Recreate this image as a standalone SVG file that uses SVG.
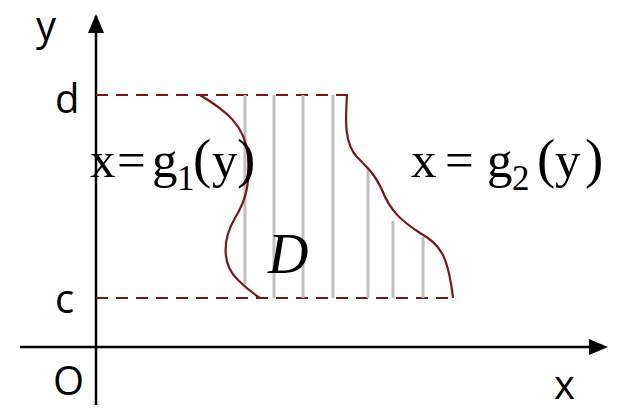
<svg xmlns="http://www.w3.org/2000/svg" width="618" height="409" viewBox="0 0 618 409">
<defs>
<style>
.axis{stroke:#000;stroke-width:2.5;fill:none}
.dash{stroke:#7f1416;stroke-width:2.2;stroke-dasharray:12 8;fill:none}
.curve{stroke:#7f1416;stroke-width:2.2;fill:none}
.grid{stroke:#bfbfbf;stroke-width:3}
.lab{font-family:"Open Sans","Liberation Sans",sans-serif;font-size:40px;fill:#000}
.math{font-family:"Liberation Serif","Times New Roman",serif;font-size:51px;fill:#000}
.sub{font-size:35px}
.par{font-size:55px}
</style>
</defs>
<g id="connectors">
<line class="axis" x1="96" y1="405" x2="96" y2="16"/>
<path d="M96,14 L88,33 L104,33 z" fill="#000"/>
<line class="axis" x1="20" y1="347" x2="590" y2="347"/>
<path d="M608,347 L589,339 L589,355 z" fill="#000"/>
<line class="dash" x1="96" y1="95" x2="348" y2="95"/>
<line class="dash" x1="96" y1="298" x2="455" y2="298"/>
</g>
<g id="grid">
<line class="grid" x1="245" y1="95" x2="245" y2="284"/>
<line class="grid" x1="274" y1="95" x2="274" y2="298"/>
<line class="grid" x1="303" y1="95" x2="303" y2="298"/>
<line class="grid" x1="333" y1="95" x2="333" y2="298"/>
<line class="grid" x1="368" y1="168" x2="368" y2="298"/>
<line class="grid" x1="393" y1="221" x2="393" y2="298"/>
<line class="grid" x1="423" y1="237" x2="423" y2="298"/>
</g>
<g id="g1-curve">
<path class="curve" d="M200,95 C225,110 245,125 248,155 C250,185 246,200 235,218 C222,240 222,265 238,280 C246,288 254,294 260,298"/>
</g>
<g id="g2-curve">
<path class="curve" d="M347,95 C346,115 343,142 357,157 C370,170 375,175 382,190 C390,210 400,220 420,233 C440,244 448,255 453,298"/>
</g>
<g id="labels">
<text class="lab" x="36" y="40">y</text>
<text class="lab" x="55" y="113">d</text>
<text class="lab" x="55" y="313">c</text>
<text class="lab" x="53" y="395">O</text>
<text class="lab" x="554" y="399">x</text>
</g>
<g id="eq1">
<text class="math" y="177"><tspan x="90">x</tspan><tspan x="117">=</tspan><tspan x="152">g</tspan><tspan class="sub" x="177" y="190">1</tspan><tspan class="par" x="193" y="177">(</tspan><tspan x="212">y</tspan><tspan class="par" x="237">)</tspan></text>
</g>
<g id="eq2">
<text class="math" y="177"><tspan x="411">x</tspan><tspan x="445">=</tspan><tspan x="487">g</tspan><tspan class="sub" x="512" y="190">2</tspan><tspan class="par" x="537" y="177">(</tspan><tspan x="555">y</tspan><tspan class="par" x="585">)</tspan></text>
</g>
<g id="region-label">
<text x="268" y="273" font-family="Liberation Serif,serif" font-style="italic" font-size="56">D</text>
</g>
</svg>
